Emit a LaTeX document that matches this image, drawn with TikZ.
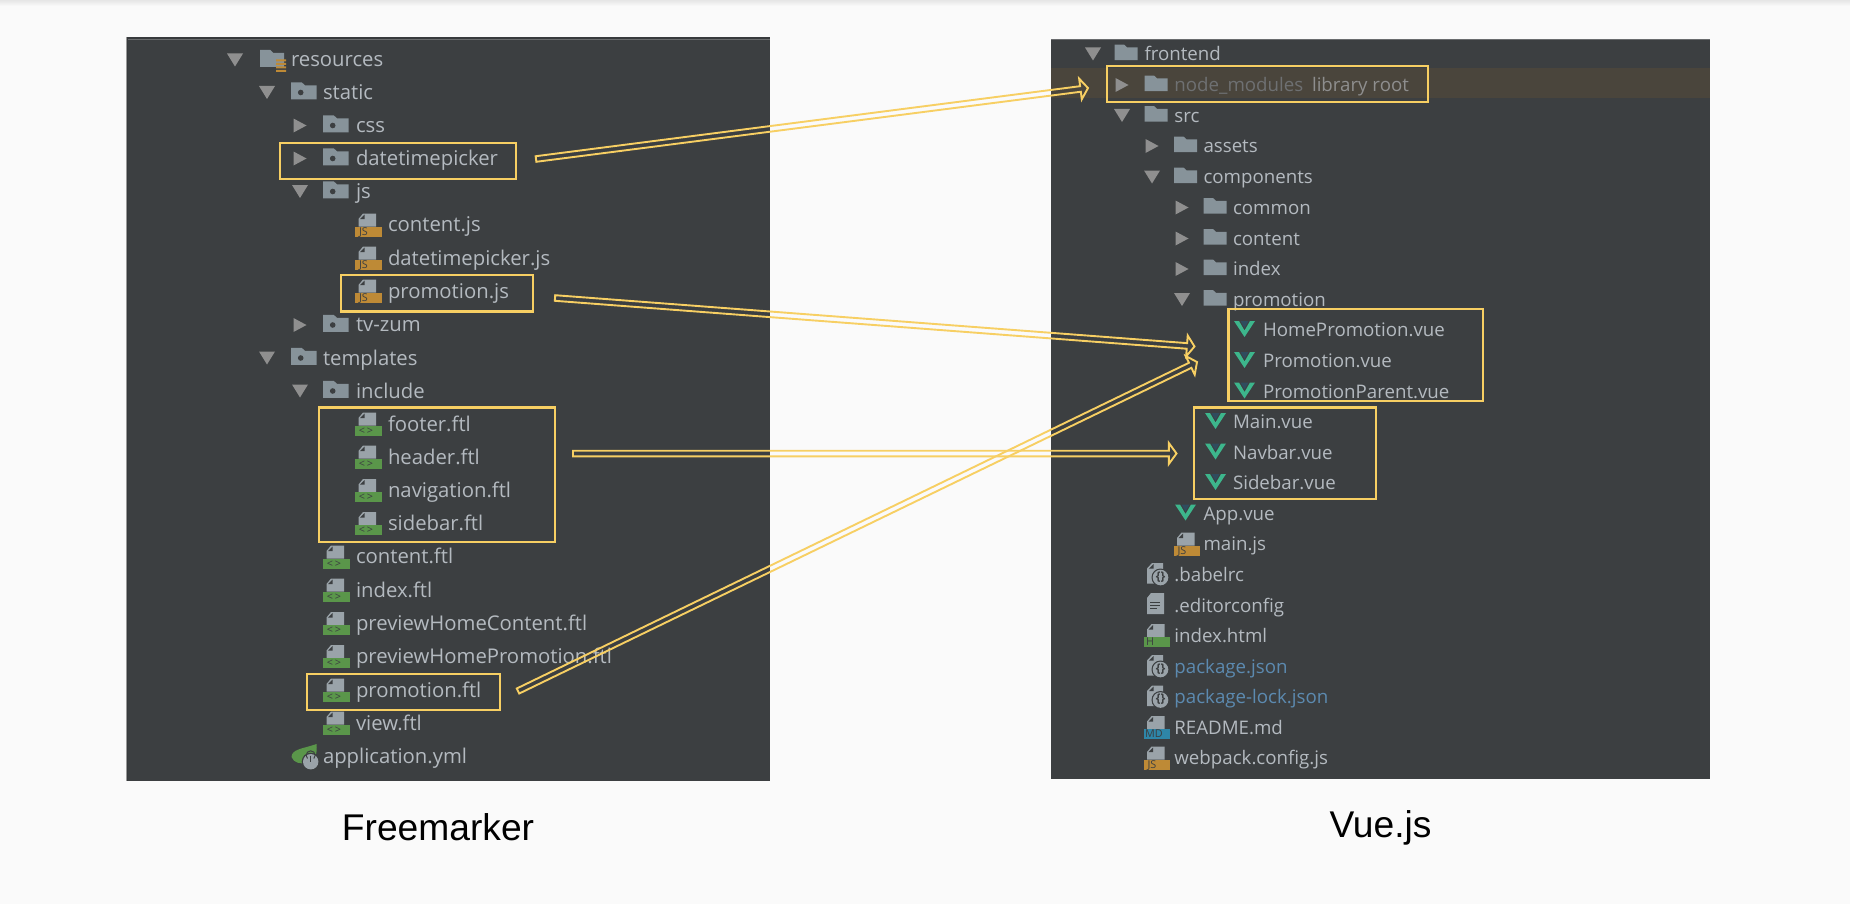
\documentclass[tikz,border=0pt]{standalone}
\usepackage{fontspec}
\setmainfont{Open Sans}
\newfontfamily\capfont{Liberation Sans}
\usetikzlibrary{calc}
\definecolor{pagebg}{HTML}{FAFAFA}
\definecolor{panel}{HTML}{3C3F41}
\definecolor{paneledge}{HTML}{6A6C6E}
\definecolor{rowhl}{HTML}{4A453C}
\definecolor{treetext}{HTML}{B4BAC0}
\definecolor{dimtext}{HTML}{6E7072}
\definecolor{libtext}{HTML}{8E8E8E}
\definecolor{bluetext}{HTML}{5C8AB0}
\definecolor{iconfolder}{HTML}{87939A}
\definecolor{iconpage}{HTML}{9AA3A9}
\definecolor{tri}{HTML}{8F8F8F}
\definecolor{mark}{HTML}{F7CF63}
\definecolor{jsb}{HTML}{BE8A36}
\definecolor{ftlb}{HTML}{5A964A}
\definecolor{mdb}{HTML}{2E86A8}
\definecolor{vuegreen}{HTML}{3DB68C}
\definecolor{vueblue}{HTML}{2F4C5E}
\tikzset{
  x=0.5pt,y=-0.5pt,
  lefttext/.style={anchor=base west,inner sep=0pt,outer sep=0pt,yshift=-0.3pt,text=treetext,font=\fontsize{10.15}{12}\selectfont},
  righttext/.style={anchor=base west,inner sep=0pt,outer sep=0pt,yshift=-0.4pt,text=treetext,font=\fontsize{9.35}{11}\selectfont},
  markbox/.style={draw=mark,line width=1.1pt,fill=none,inner sep=0pt,minimum width=0pt},
  flow/.style={draw=mark,line width=0.95pt,line join=miter,fill=none},
  badgetext/.style={anchor=base,inner sep=0pt,outer sep=0pt,text=panel,font=\fontsize{5.4}{6}\selectfont},
  caption/.style={inner sep=0pt,outer sep=0pt,anchor=base,text=black,font=\capfont\fontsize{18.6}{20}\selectfont}
}
% triangles
\newcommand{\trid}[2]{\fill[tri] (#1-8,#2-6.5) -- (#1+8,#2-6.5) -- (#1,#2+6.5) -- cycle;}
\newcommand{\trir}[2]{\fill[tri] (#1-6.5,#2-7) -- (#1+6.5,#2) -- (#1-6.5,#2+7) -- cycle;}
% folder: #1 left, #2 row, #3 width, #4 height
\newcommand{\fold}[4]{\fill[iconfolder] (#1,#2-#4*0.6) -- (#1+#3*0.42,#2-#4*0.6) -- (#1+#3*0.55,#2-#4*0.42) -- (#1+#3,#2-#4*0.42) -- (#1+#3,#2+#4*0.4) -- (#1,#2+#4*0.4) -- cycle;}
\newcommand{\lfold}[2]{\fold{#1}{#2}{25.5}{17}\fill[panel] (#1+9.7,#2) circle (2.8);}
\newcommand{\rfold}[2]{\fold{#1}{#2}{23}{15.5}}
% file page
\newcommand{\fpage}[4]{% x left, row, right offset,bottom
  \fill[iconpage] (#1+8,#2-11.5) -- (#1+#3,#2-11.5) -- (#1+#3,#2+#4) -- (#1+3.5,#2+#4) -- (#1+3.5,#2-6) -- cycle;
  \fill[panel] (#1+5,#2-6) -- (#1+9.5,#2-10.5) -- (#1+9.5,#2-6) -- cycle;}
\newcommand{\badgefile}[5][8.5]{% [text offset] x,row,color,text
  \fpage{#2}{#3}{21}{1.5}
  \fill[#4] (#2,#3+1.5) rectangle (#2+26.5,#3+11.5);
  \node[badgetext] at (#2+#1,#3+10.3) {#5};}
\newcommand{\vueicon}[2]{%
  \fill[vuegreen] (#1,#2-9) -- (#1+5,#2-9) -- (#1+10.5,#2+0.5) -- (#1+16,#2-9) -- (#1+21,#2-9) -- (#1+10.5,#2+7) -- cycle;
  \fill[vueblue] (#1+6.5,#2-9) -- (#1+14.5,#2-9) -- (#1+10.5,#2-2) -- cycle;}
\newcommand{\cfgicon}[2]{%
  \fill[iconpage] (#1+8,#2-11.5) -- (#1+19,#2-11.5) -- (#1+19,#2+9) -- (#1+3,#2+9) -- (#1+3,#2-6) -- cycle;
  \fill[panel] (#1+5,#2-6) -- (#1+9.5,#2-10.5) -- (#1+9.5,#2-6) -- cycle;
  \fill[panel] (#1+16.5,#2+3) circle (9);
  \fill[iconpage] (#1+16.5,#2+3) circle (7.8);
  \node[inner sep=0pt,text=panel,font=\fontsize{6}{6}\selectfont\bfseries] at (#1+16.5,#2+2.6) {\{\}};}
\newcommand{\hollowarrow}[2]{%
  \path coordinate (arrowbase) at ($(#2)!3.8pt!(#1)$);
  \draw[flow]
    ($(#1)!1.4pt!90:(#2)$) -- ($(arrowbase)!1.4pt!90:(#2)$) -- ($(arrowbase)!5.2pt!90:(#2)$) -- (#2)
    -- ($(arrowbase)!5.2pt!-90:(#2)$) -- ($(arrowbase)!1.4pt!-90:(#2)$) -- ($(#1)!1.4pt!-90:(#2)$) -- cycle;}
\begin{document}
\begin{tikzpicture}
\useasboundingbox (0,0) rectangle (1850,904);
\fill[pagebg] (0,0) rectangle (1850,904);
\shade[top color=black!10,bottom color=pagebg] (0,0) rectangle (1850,6);
% panels
\fill[panel!92!black] (126,37) rectangle (770,780.5);
\fill[panel] (128,40) rectangle (770,780.5);
\draw[paneledge,line width=0.5pt] (128,40) -- (770,40);
\draw[black!40,line width=0.8pt] (126.5,37) -- (126.5,780.5);
\fill[panel] (1051,39) rectangle (1710,779);
\draw[paneledge,line width=0.5pt] (1051,39.5) -- (1710,39.5);
\fill[rowhl] (1051,68) rectangle (1710,98);

% ---------- left tree ----------
\trid{235}{60}
\fold{260}{60}{24}{17}
\fill[jsb] (276,59.5) rectangle (286,61.5) (276,63) rectangle (286,65) (276,66.5) rectangle (286,68.5) (276,70) rectangle (286,72);
\node[lefttext] (lresources) at (291,66) {resources};
\trid{267}{92.5}\lfold{291}{92.5}
\node[lefttext] (lstatic) at (323,99) {static};
\trir{300}{125.5}\lfold{323}{125.5}
\node[lefttext] (lcss) at (356,132) {css};
\trir{300}{158.5}\lfold{323}{158.5}
\node[lefttext] (ldtp) at (356,165) {datetimepicker};
\trid{300}{191.5}\lfold{323}{191.5}
\node[lefttext] (ljs) at (356,198) {js};
\badgefile{355}{225}{jsb}{JS}
\node[lefttext] (lcontentjs) at (388,231) {content.js};
\badgefile{355}{258}{jsb}{JS}
\node[lefttext] (ldtpjs) at (388,264.5) {datetimepicker.js};
\badgefile{355}{291}{jsb}{JS}
\node[lefttext] (lpromojs) at (388,297.5) {promotion.js};
\trir{300}{325}\lfold{323}{325}
\node[lefttext] (ltvzum) at (356,331) {tv-zum};
\trid{267}{358}\lfold{291}{358}
\node[lefttext] (ltemplates) at (323,364.5) {templates};
\trid{300}{391}\lfold{323}{391}
\node[lefttext] (linclude) at (356,397.5) {include};
\badgefile[11]{355}{424}{ftlb}{<\,>}
\node[lefttext] (lfooter) at (388,430.5) {footer.ftl};
\badgefile[11]{355}{457}{ftlb}{<\,>}
\node[lefttext] (lheader) at (388,463.5) {header.ftl};
\badgefile[11]{355}{490.5}{ftlb}{<\,>}
\node[lefttext] (lnav) at (388,497) {navigation.ftl};
\badgefile[11]{355}{523.5}{ftlb}{<\,>}
\node[lefttext] (lsidebar) at (388,530) {sidebar.ftl};
\badgefile[11]{323}{557}{ftlb}{<\,>}
\node[lefttext] (lcontent) at (356,563) {content.ftl};
\badgefile[11]{323}{590}{ftlb}{<\,>}
\node[lefttext] (lindex) at (356,596.5) {index.ftl};
\badgefile[11]{323}{623.5}{ftlb}{<\,>}
\node[lefttext] (lphc) at (356,630) {previewHomeContent.ftl};
\badgefile[11]{323}{656.5}{ftlb}{<\,>}
\node[lefttext] (lphp) at (356,663) {previewHomePromotion.ftl};
\badgefile[11]{323}{690}{ftlb}{<\,>}
\node[lefttext] (lpromoftl) at (356,696.5) {promotion.ftl};
\badgefile[11]{323}{723}{ftlb}{<\,>}
\node[lefttext] (lview) at (356,729.5) {view.ftl};
% spring icon
\fill[ftlb] (291.5,757) .. controls (292,749) and (302,749) .. (316.5,744) .. controls (317.5,752) and (316,762) .. (306,763) .. controls (300,764) and (294,763) .. (291.5,757) -- cycle;
\fill[panel] (310.7,761.7) circle (9);
\fill[iconpage] (310.7,761.7) circle (7.7);
\draw[panel,line width=0.5pt] (307.5,758.5) arc[start angle=135,end angle=405,radius=4.5];
\draw[panel,line width=0.5pt] (310.7,755.5) -- (310.7,761.5);
\node[lefttext] (lapp) at (323,763) {application.yml};

% ---------- right tree ----------
\trid{1093}{54}\rfold{1114.5}{54}
\node[righttext] (rfrontend) at (1144.5,60) {frontend};
\trir{1122}{85}\rfold{1144.5}{85}
\node[righttext,text=dimtext] (rnode) at (1174.4,91) {node\_modules};
\node[righttext,text=libtext] (rlib) at (1312,91) {library root};
\trid{1122}{115.5}\rfold{1144.5}{115.5}
\node[righttext] (rsrc) at (1174.4,121.5) {src};
\trir{1152}{146}\rfold{1174}{146}
\node[righttext] (rassets) at (1203.5,152) {assets};
\trid{1152}{177}\rfold{1174}{177}
\node[righttext] (rcomp) at (1203.5,183) {components};
\trir{1182}{207.5}\rfold{1203.5}{207.5}
\node[righttext] (rcommon) at (1233,213.5) {common};
\trir{1182}{238.5}\rfold{1203.5}{238.5}
\node[righttext] (rcontent) at (1233,244.5) {content};
\trir{1182}{269}\rfold{1203.5}{269}
\node[righttext] (rindex) at (1233,275) {index};
\trid{1182}{299.5}\rfold{1203.5}{299.5}
\node[righttext] (rpromotion) at (1233,305.5) {promotion};
\vueicon{1234}{330}
\node[righttext] (rhome) at (1263,336) {HomePromotion.vue};
\vueicon{1234}{361}
\node[righttext] (rpromo) at (1263,367) {Promotion.vue};
\vueicon{1234}{391.5}
\node[righttext] (rparent) at (1263,397.5) {PromotionParent.vue};
\vueicon{1205}{422}
\node[righttext] (rmain) at (1233,428) {Main.vue};
\vueicon{1205}{452.5}
\node[righttext] (rnavbar) at (1233,458.5) {Navbar.vue};
\vueicon{1205}{483}
\node[righttext] (rsidebar) at (1233,489) {Sidebar.vue};
\vueicon{1175}{513.5}
\node[righttext] (rappvue) at (1203.5,519.5) {App.vue};
\badgefile{1173.5}{544}{jsb}{JS}
\node[righttext] (rmainjs) at (1203.5,550) {main.js};
\cfgicon{1144}{574.5}
\node[righttext] (rbabel) at (1174.4,580.5) {.babelrc};
\fill[iconpage] (1151,593) -- (1164,593) -- (1164,614) -- (1147,614) -- (1147,598) -- cycle;
\draw[panel,line width=0.5pt] (1150,602) -- (1160,602) (1150,605) -- (1160,605) (1150,608) -- (1157,608);
\node[righttext] (reditor) at (1174.4,611.5) {.editorconfig};
\badgefile[6.5]{1143.5}{635.5}{ftlb}{H}
\node[righttext] (rhtml) at (1174.4,641.5) {index.html};
\cfgicon{1144}{666.5}
\node[righttext,text=bluetext] (rpkg) at (1174.4,672.5) {package.json};
\cfgicon{1144}{697}
\node[righttext,text=bluetext] (rlock) at (1174.4,703) {package-lock.json};
\badgefile[10.5]{1143.5}{727.5}{mdb}{MD}
\node[righttext] (rreadme) at (1174.4,733.5) {README.md};
\badgefile{1143.5}{758}{jsb}{JS}
\node[righttext] (rwebpack) at (1174.4,764) {webpack.config.js};

% ---------- highlight boxes ----------
\draw[markbox] (280,143) rectangle (516,179);
\draw[markbox] (341,275) rectangle (533,311.5);
\draw[markbox] (319,407.5) rectangle (555,542);
\draw[markbox] (307,674) rectangle (500,710);
\draw[markbox] (1107,66) rectangle (1428,102);
\draw[markbox] (1228.5,309) rectangle (1483,401);
\draw[markbox] (1194,407.5) rectangle (1376,499);

% ---------- arrows ----------
\coordinate (t1) at (536,159); \coordinate (h1) at (1088,88);
\coordinate (t2) at (555,298); \coordinate (h2) at (1194.5,346.5);
\coordinate (t3) at (518,691); \coordinate (h3) at (1197,362);
\coordinate (t4) at (573,453.5); \coordinate (h4) at (1176.5,453.5);
\hollowarrow{t1}{h1}
\hollowarrow{t2}{h2}
\hollowarrow{t4}{h4}
\hollowarrow{t3}{h3}

% ---------- captions ----------
\node[caption] (capL) at (438,840) {Freemarker};
\node[caption] (capR) at (1380.5,837) {Vue.js};
\end{tikzpicture}
\end{document}
